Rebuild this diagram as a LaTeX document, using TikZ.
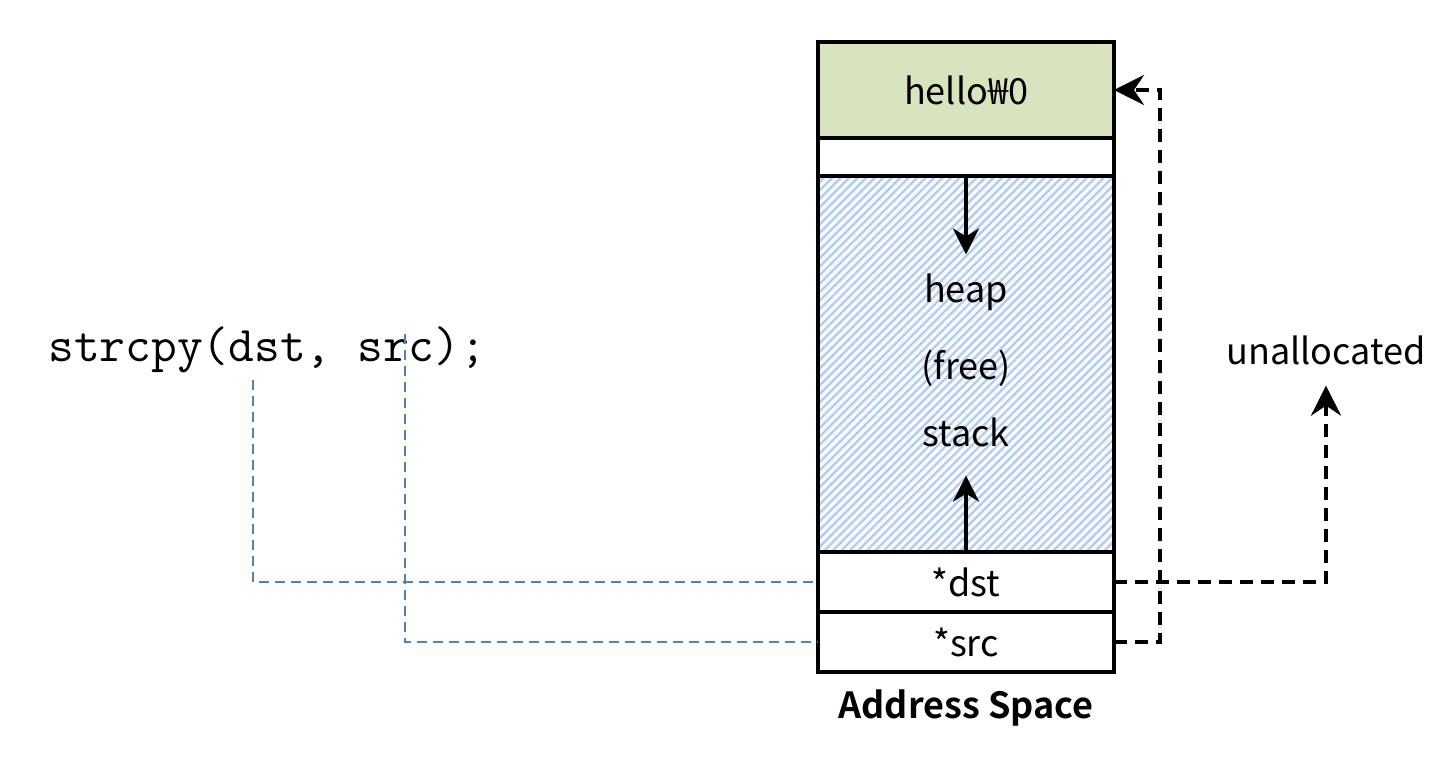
\documentclass[tikz,border=0pt]{standalone}
\usepackage{fontspec}
\setmainfont{Noto Sans CJK KR}[BoldFont={Noto Sans CJK KR Bold}]
\usepackage{tikz}
\usetikzlibrary{positioning, arrows.meta, patterns.meta, calc}
\definecolor{hellogreen}{RGB}{215,228,189}
\definecolor{hatchblue}{RGB}{180,202,236}
\definecolor{heapbg}{RGB}{246,249,253}
\definecolor{linkblue}{RGB}{79,129,189}

\begin{document}
\begin{tikzpicture}[x=0.5pt, y=-0.5pt]
\tikzset{
    every node/.style={align=center, font=\fontsize{18pt}{22pt}\selectfont},
    cell/.style={draw, line width=2pt, minimum width=148pt, inner sep=0pt, outer sep=0pt},
    arr/.style={line width=2pt, -{Stealth[length=13pt, width=13pt, inset=4pt]}},
    ptr/.style={line width=2pt, dash pattern=on 6.5pt off 4pt, -{Stealth[length=15pt, width=15pt, inset=5pt]}},
    link/.style={linkblue, line width=1pt, dash pattern=on 5pt off 3pt}
}
\useasboundingbox (0,0) rectangle (1440,764);

\node[cell, fill=hellogreen, minimum height=48pt] (hello) at (966,90) {hello₩0};
\node[cell, fill=white, minimum height=19pt, below=0pt of hello] (gap) {};
\node[cell, preaction={fill=heapbg}, pattern={Lines[angle=45, distance=3pt, line width=1.1pt]},
      pattern color=hatchblue, minimum height=188pt, below=0pt of gap] (heaparea) {};
\node[cell, fill=white, minimum height=30pt, below=0pt of heaparea] (dst) {*dst};
\node[cell, fill=white, minimum height=30pt, below=0pt of dst] (src) {*src};
\node[font=\fontsize{18pt}{22pt}\selectfont\bfseries] (space) at (966,708) {Address Space};

\node (heap) at (966,292) {heap};
\node (free) at (966,368) {(free)};
\node (stack) at (966,432) {stack};
\draw[arr] (heaparea.north) -- ($(heap.north)+(0,-12)$);
\draw[arr] (dst.north) -- ($(stack.south)+(0,22)$);

\node (unalloc) at (1326,350) {unallocated};
\draw[ptr] (src.east) -- ++(46,0) |- (hello.east);
\draw[ptr] (dst.east) -| ($(unalloc.south)+(0,14)$);

\node[font=\fontsize{25pt}{29pt}\ttfamily, anchor=west, inner sep=0pt] (code) at (48,350) {strcpy(dst, src);};
\coordinate (dsttap) at (253,380);
\coordinate (srctap) at (405,334);
\draw[link] (dsttap) |- (dst.west);
\draw[link] (srctap) |- (src.west);
\end{tikzpicture}
\end{document}
